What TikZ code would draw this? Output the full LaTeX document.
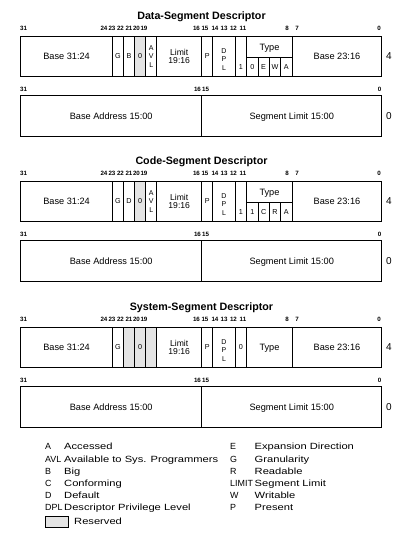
\documentclass[tikz,border=0pt]{standalone}
\usepackage{fontspec}
\setmainfont{Liberation Sans}
\newfontfamily\legfont[FakeStretch=1.24]{Liberation Sans}
\definecolor{rsvgray}{RGB}{228,228,228}
\tikzset{
  ln/.style={line width=0.9pt},
  rsv/.style={fill=rsvgray},
  num/.style={font=\bfseries\fontsize{6.2}{7}\selectfont, inner sep=0pt, text height=4.4pt, text depth=0pt},
  lbl/.style={font=\fontsize{9.2}{11}\selectfont, inner sep=0pt, text height=6.6pt, text depth=0pt},
  sm/.style={font=\fontsize{7.2}{8}\selectfont, inner sep=0pt, text height=5.2pt, text depth=0pt},
  stk/.style={font=\fontsize{7}{8.6}\selectfont, inner sep=0pt, align=center},
  lim/.style={font=\fontsize{8.6}{8.2}\selectfont, inner sep=0pt, align=center},
  ttl/.style={font=\bfseries\fontsize{10.7}{12}\selectfont, inner sep=0pt, text height=7.7pt, text depth=0pt},
  side/.style={font=\fontsize{10}{12}\selectfont, inner sep=0pt, text height=7.2pt, text depth=0pt},
  legk/.style={font=\fontsize{8.9}{11}\selectfont, inner sep=0pt, anchor=west, text height=6.4pt, text depth=0pt},
  legd/.style={font=\legfont\fontsize{9}{11}\selectfont, inner sep=0pt, anchor=west, text height=6.45pt, text depth=0pt},
}
% #1 prefix, #2 offset, #3 title, #4 gray left, #5 gray right
\newcommand\descblock[5]{%
  \fill[rsv] (#4,36+#2) rectangle (#5,76.5+#2);
  \node[ttl] (#1title) at (201.5,15.3+#2) {#3};
  \foreach \n/\x in {31/23.6,24/104,23/112,22/120.5,21/129,20/136.5,19/144,16/196.5,15/205,14/215,13/224,12/233.5,11/243,8/287,7/297,0/379}
    \node[num] (#1n\n) at (\x,28+#2) {\n};
  \draw[ln] (20.7,36+#2) rectangle (381.7,76.5+#2);
  \foreach \x in {112.5,123.5,134.5,145.7,156.7,201.7,212.7,235.3,246.7,292.3}
    \draw[ln] (\x,36+#2) -- (\x,76.5+#2);
  \node[lbl] (#1bhi) at (66.6,56.25+#2) {Base 31:24};
  \node[sm] (#1g) at (118,56.25+#2) {G};
  \node[sm] (#1z) at (140.1,56.25+#2) {0};
  \node[lim] (#1lim) at (179.2,56.25+#2) {Limit\\19:16};
  \node[sm] (#1p) at (207.2,56.25+#2) {P};
  \node[stk] (#1dpl) at (224,59.5+#2) {D\\P\\L};
  \node[lbl] (#1blo) at (337,56.25+#2) {Base 23:16};
  \node[side] (#1four) at (389,56.25+#2) {4};
  \foreach \n/\x in {31/23.6,16/197.5,15/205.5,0/379.5}
    \node[num] (#1m\n) at (\x,89+#2) {\n};
  \draw[ln] (20.7,95.5+#2) rectangle (381.7,136+#2);
  \draw[ln] (201.7,95.5+#2) -- (201.7,136+#2);
  \node[lbl] (#1badr) at (111.2,115.75+#2) {Base Address 15:00};
  \node[lbl] (#1slim) at (291.7,115.75+#2) {Segment Limit 15:00};
  \node[side] (#1zero) at (389,115.75+#2) {0};
}
% #1 prefix, #2 offset, #3 B/D, #4..#7 type bits
\newcommand\typesplit[7]{%
  \node[sm] (#1bd) at (129,56.25+#2) {#3};
  \node[stk] (#1avl) at (151.2,56.25+#2) {A\\V\\L};
  \draw[ln] (246.7,57.5+#2) -- (292.3,57.5+#2);
  \foreach \x in {258,269.2,280.6} \draw[ln] (\x,57.5+#2) -- (\x,76.5+#2);
  \node[lbl] (#1type) at (269.5,47+#2) {Type};
  \node[sm] (#1bit) at (241,67+#2) {1};
  \node[sm] (#1ta) at (252.3,67+#2) {#4};
  \node[sm] (#1tb) at (263.6,67+#2) {#5};
  \node[sm] (#1tc) at (274.9,67+#2) {#6};
  \node[sm] (#1td) at (286.4,67+#2) {#7};
}
\begin{document}
\begin{tikzpicture}[x=1pt,y=-1pt]
\useasboundingbox (0,0) rectangle (405,542);
\descblock{d}{0}{Data-Segment Descriptor}{134.5}{145.7}
\typesplit{d}{0}{B}{0}{E}{W}{A}
\descblock{c}{145}{Code-Segment Descriptor}{134.5}{145.7}
\typesplit{c}{145}{D}{1}{C}{R}{A}
\descblock{s}{291}{System-Segment Descriptor}{123.5}{156.7}
\node[sm] (sbit) at (241,347.25) {0};
\node[lbl] (stype) at (269.5,347.25) {Type};
% legend
\foreach \k/\t/\i in {A/Accessed/0, AVL/Available to Sys. Programmers/1, B/Big/2, C/Conforming/3, D/Default/4, DPL/Descriptor Privilege Level/5}{
  \node[legk] (lk\i) at (45,446.7+12.15*\i) {\k};
  \node[legd] (ld\i) at (64,446.7+12.15*\i) {\t};
}
\foreach \k/\t/\i in {E/Expansion Direction/0, G/Granularity/1, R/Readable/2, LIMIT/Segment Limit/3, W/Writable/4, P/Present/5}{
  \node[legk] (rk\i) at (230,446.7+12.15*\i) {\k};
  \node[legd] (rd\i) at (254.5,446.7+12.15*\i) {\t};
}
\draw[ln, rsv] (45,516.5) rectangle (68.5,527);
\node[legd] (rsvtxt) at (74,521.7) {Reserved};
\end{tikzpicture}
\end{document}
